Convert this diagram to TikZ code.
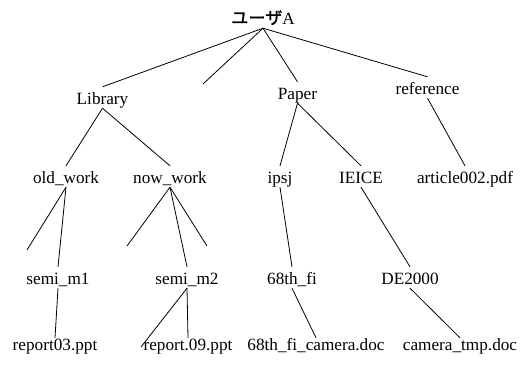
\documentclass[tikz,border=0pt]{standalone}
\usepackage{fontspec}
\setmainfont{Liberation Serif}
\newfontfamily\jpfont[FakeBold=1.2]{Noto Sans CJK JP}
\begin{document}
\begin{tikzpicture}[x=1pt,y=-1pt,
  lbl/.style={font=\fontsize{17.2}{20}\selectfont, inner sep=0pt, text height=17pt, text depth=4pt, anchor=base},
  leaf/.style={lbl, text height=12pt},
  edge/.style={line width=0.8pt}]
\useasboundingbox (0,0) rectangle (532,376);
% nodes
\node[lbl] (root) at (263,24) {{\jpfont ユーザ}A};
\node[lbl] (lib) at (102.5,104) {Library};
\node[lbl] (pap) at (297.5,99) {Paper};
\node[lbl] (ref) at (427.5,94) {reference};
\node[lbl] (old) at (66,183) {old\_work};
\node[lbl] (now) at (170,183) {now\_work};
\node[lbl] (ipsj) at (280,183) {ipsj};
\node[lbl] (ieice) at (361,183) {IEICE};
\node[lbl] (art) at (465,183) {article002.pdf};
\node[lbl] (sm1) at (58,284) {semi\_m1};
\node[lbl] (sm2) at (187,284) {semi\_m2};
\node[lbl] (fi) at (292,284) {68th\_fi};
\node[lbl] (de) at (410,284) {DE2000};
\node[leaf] (r03) at (55,350) {report03.ppt};
\node[leaf] (r09) at (188,350) {report.09.ppt};
\node[leaf] (cam) at (316,350) {68th\_fi\_camera.doc};
\node[leaf] (tmp) at (460,350) {camera\_tmp.doc};
% stub ends
\coordinate (s1) at (203,84);
\coordinate (s2) at (27,250);
\coordinate (s3) at (127,246);
\coordinate (s4) at (207,246);
\coordinate (s5) at (141,347);
% connectors
\draw[edge] (root.south) -- (lib.north);
\draw[edge] (root.south) -- (s1);
\draw[edge] (root.south) -- (pap.north);
\draw[edge] (root.south) -- (ref.north);
\draw[edge] (lib.south) -- (old.north);
\draw[edge] (lib.south) -- (now.north);
\draw[edge] (pap.south) -- (ipsj.north);
\draw[edge] (pap.south) -- (ieice.north);
\draw[edge] (ref.south) -- (art.north);
\draw[edge] (old.south) -- (s2);
\draw[edge] (old.south) -- (sm1.north);
\draw[edge] (now.south) -- (s3);
\draw[edge] (now.south) -- (sm2.north);
\draw[edge] (now.south) -- (s4);
\draw[edge] (ipsj.south) -- (fi.north);
\draw[edge] (ieice.south) -- (de.north);
\draw[edge] (sm1.south) -- (r03.north);
\draw[edge] (sm2.south) -- (s5);
\draw[edge] (sm2.south) -- (r09.north);
\draw[edge] (fi.south) -- (cam.north);
\draw[edge] (de.south) -- (tmp.north);
\end{tikzpicture}
\end{document}
